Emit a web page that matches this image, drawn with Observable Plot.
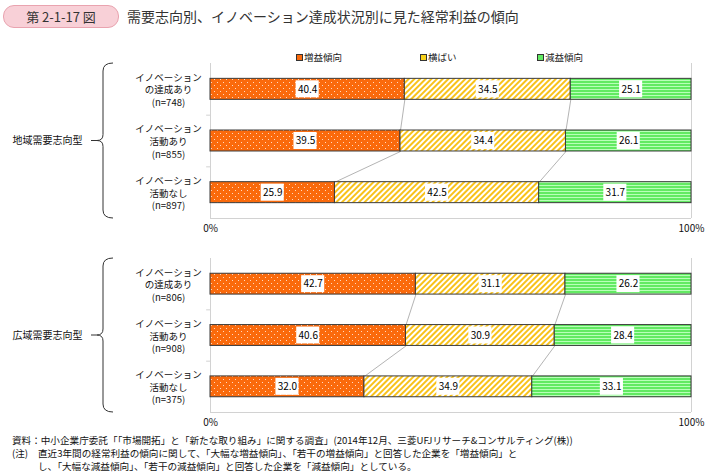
<!DOCTYPE html>
<html><head><meta charset="utf-8">
<script src="https://cdn.jsdelivr.net/npm/d3@7"></script>
<script src="https://cdn.jsdelivr.net/npm/@observablehq/plot@0.6"></script>
<style>
body{margin:0;background:#fff;font-family:"Noto Sans CJK JP",sans-serif;color:#222;}
#wrap{position:relative;width:711px;height:476px;overflow:hidden;}
.abs{position:absolute;white-space:nowrap;}
#badge{left:3px;top:5px;width:114px;height:21px;border:1px solid #e9a3af;background:#f8d0d7;border-radius:11px;font-size:13px;line-height:21px;text-align:center;color:#333;}
#title{left:127px;top:6px;font-size:14px;line-height:21px;color:#333;}
.leg{font-size:9.5px;line-height:12px;top:51px;}
.sw{display:inline-block;width:5px;height:5px;border:1px solid #333;margin-right:1px;vertical-align:0px;}
.note{font-size:9.6px;line-height:13px;left:12px;color:#111;}
</style></head>
<body>
<svg width="0" height="0" style="position:absolute">
 <defs>
  <pattern id="pInc" width="6" height="6" patternUnits="userSpaceOnUse">
   <rect width="6" height="6" fill="#fa6a0c"/>
   <rect x="1" y="1" width="1" height="1" fill="#ffd9c0"/>
   <rect x="4" y="4" width="1" height="1" fill="#ffd9c0"/>
  </pattern>
  <pattern id="pFlat" width="4" height="4" patternUnits="userSpaceOnUse" patternTransform="rotate(45)">
   <rect width="4" height="4" fill="#ffffff"/>
   <rect width="2" height="4" fill="#f8c21a"/>
  </pattern>
  <pattern id="pDec" width="4" height="3" patternUnits="userSpaceOnUse">
   <rect width="4" height="3" fill="#62ea62"/>
   <rect y="2" width="4" height="1" fill="#b8ffb8"/>
  </pattern>
 </defs>
</svg>
<div id="wrap">
 <div id="badge" class="abs">第 2-1-17 図</div>
 <div id="title" class="abs">需要志向別、イノベーション達成状況別に見た経常利益の傾向</div>
 <div id="legend"></div>
 <div id="p1" class="abs" style="left:0;top:45px;"></div>
 <div id="p2" class="abs" style="left:0;top:240px;"></div>
 <div class="abs note" style="top:434px;">資料：中小企業庁委託「「市場開拓」と「新たな取り組み」に関する調査」(2014年12月、三菱UFJリサーチ&amp;コンサルティング(株))</div>
 <div class="abs note" style="top:447px;">(注)</div>
 <div class="abs note" style="top:447px;left:38px;">直近3年間の経常利益の傾向に関して、「大幅な増益傾向」、「若干の増益傾向」と回答した企業を「増益傾向」と</div>
 <div class="abs note" style="top:460px;left:38px;">し、「大幅な減益傾向」、「若干の減益傾向」と回答した企業を「減益傾向」としている。</div>
</div>
<script>
// ---- data ----
const groups = ["地域需要志向型", "広域需要志向型"];
const categories = ["イノベーション\nの達成あり", "イノベーション\n活動あり", "イノベーション\n活動なし"];
const seriesNames = ["増益傾向", "横ばい", "減益傾向"];
const localN = [748, 855, 897];
const wideN = [806, 908, 375];
const localIncrease = [40.4, 39.5, 25.9];
const localFlat     = [34.5, 34.4, 42.5];
const localDecrease = [25.1, 26.1, 31.7];
const wideIncrease  = [42.7, 40.6, 32.0];
const wideFlat      = [31.1, 30.9, 34.9];
const wideDecrease  = [26.2, 28.4, 33.1];
const xTicks = [0, 100];
const xTickLabels = ["0%", "100%"];

// ---- styles ----
const fills = ["url(#pInc)", "url(#pFlat)", "url(#pDec)"];
const swatch = ["#fa6a0c", "#f8d21a", "#62ea62"];
const legendX = [296, 420, 537];

// legend
const leg = document.getElementById("legend");
seriesNames.forEach((s, k) => {
  const d = document.createElement("div");
  d.className = "abs leg";
  d.style.left = legendX[k] + "px";
  d.innerHTML = `<span class="sw" style="background:${swatch[k]}"></span>${s}`;
  leg.appendChild(d);
});

const half = 0.203;

function panel(group, ns, series, frameH) {
  const segs = [];
  const cums = [];
  categories.forEach((c, i) => {
    const vals = series.map(s => s[i]);
    const tot = d3.sum(vals);
    let acc = 0;
    const cum = [];
    vals.forEach((v, k) => {
      const x1 = acc / tot * 100;
      acc += v;
      const x2 = acc / tot * 100;
      segs.push({row: i, series: k, value: v, x1, x2, mid: (x1 + x2) / 2});
      cum.push(x2);
    });
    cums.push(cum);
  });
  const links = [];
  for (let i = 0; i < categories.length - 1; i++) {
    for (let k = 0; k < 2; k++) {
      links.push({x1: cums[i][k], y1: i + half, x2: cums[i + 1][k], y2: i + 1 - half});
    }
  }
  const rows = categories.map((c, i) => ({row: i, label: c + "\n(n=" + ns[i] + ")"}));
  const mt = 18, mb = 25;
  const plot = Plot.plot({
    width: 711,
    height: mt + frameH + mb,
    marginLeft: 210,
    marginRight: 20,
    marginTop: mt,
    marginBottom: mb,
    style: {fontFamily: "'Noto Sans CJK JP', sans-serif", fontSize: "10px", color: "#111", background: "transparent", overflow: "visible"},
    x: {domain: [0, 100], ticks: xTicks, tickFormat: d => xTickLabels[xTicks.indexOf(d)], tickSize: 0, tickPadding: 6, label: null},
    y: {domain: [-0.5, 2.5], reverse: true, axis: null},
    color: {type: "identity"},
    marks: [
      Plot.ruleX([0, 100], {stroke: "#d2d2d2"}),
      Plot.ruleY([2.5], {stroke: "#d2d2d2"}),
      Plot.ruleY([0.5, 1.5], {x1: 0, x2: -0.8, stroke: "#d2d2d2"}),
      Plot.link(links, {x1: "x1", y1: "y1", x2: "x2", y2: "y2", stroke: "#b4b4b4", strokeWidth: 1}),
      Plot.rect(segs, {x1: "x1", x2: "x2", y1: d => d.row - half, y2: d => d.row + half, fill: d => fills[d.series], stroke: "#3a3a3a", strokeWidth: 1}),
      Plot.rect(segs, {x1: d => d.mid - 2.4, x2: d => d.mid + 2.4, y1: d => d.row - 0.165, y2: d => d.row + 0.165, fill: "#ffffff"}),
      Plot.text(segs, {x: "mid", y: "row", text: d => d.value.toFixed(1), fontSize: 10, fill: "#000"}),
      Plot.text(rows, {y: "row", frameAnchor: "left", dx: -42, text: "label", textAnchor: "middle", lineHeight: 1.32, fontSize: 9.5, fill: "#111"}),
      Plot.text([group], {frameAnchor: "left", dx: -198, textAnchor: "start", text: d => d, fontSize: 10, fill: "#111"})
    ]
  });
  // brace, positioned from the y scale
  const ys = plot.scale("y");
  const top = ys.apply(-0.5), bot = ys.apply(2.5), mid = (top + bot) / 2;
  const xv = 103, xt = 113, xp = 91;
  const p = `M${xt},${top} Q${xv},${top} ${xv},${top + 8} L${xv},${mid - 6} Q${xv},${mid} ${xv - 6},${mid} L${xp},${mid} M${xv - 6},${mid} Q${xv},${mid} ${xv},${mid + 6} L${xv},${bot - 8} Q${xv},${bot} ${xt},${bot}`;
  d3.select(plot).append("path").attr("d", p).attr("fill", "none").attr("stroke", "#333").attr("stroke-width", 1);
  return plot;
}

document.getElementById("p1").appendChild(panel(groups[0], localN, [localIncrease, localFlat, localDecrease], 155));
document.getElementById("p2").appendChild(panel(groups[1], wideN, [wideIncrease, wideFlat, wideDecrease], 154));
</script>
</body></html>
